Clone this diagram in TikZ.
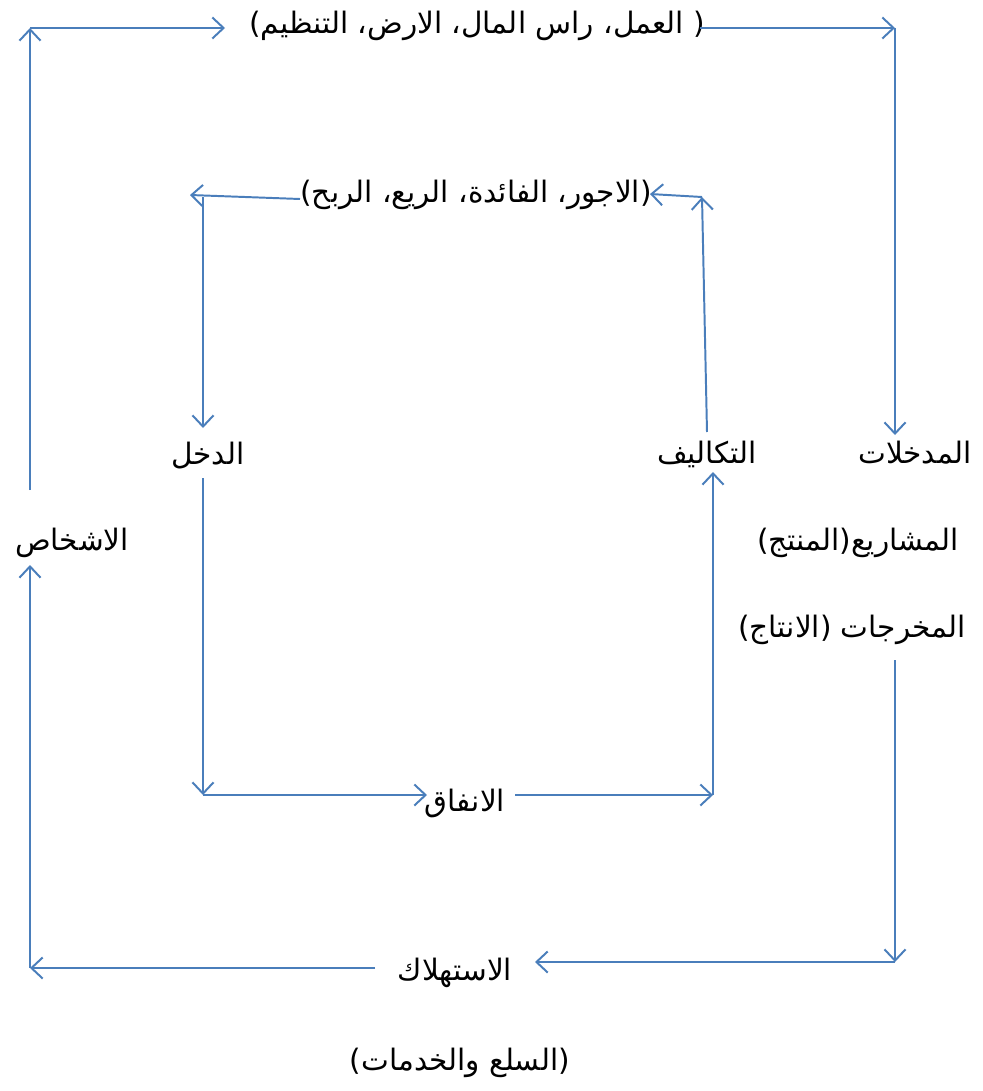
\documentclass[tikz,border=0pt]{standalone}
\usepackage{fontspec}
\usetikzlibrary{arrows.meta}
\newfontfamily\arabicfont[Script=Arabic]{DejaVu Sans}
\TeXXeTstate=1
\definecolor{flowblue}{HTML}{4A7EBB}
\newcommand{\artext}[1]{{\arabicfont\beginR #1\endR}}

\begin{document}
\begin{tikzpicture}[x=0.025cm,y=-0.025cm,
  flow/.style={draw=flowblue,line width=1.4pt,-{Straight Barb[length=8pt,width=15pt]}},
  lbl/.style={font=\arabicfont\fontsize{21}{25}\selectfont,inner sep=0pt}]
\useasboundingbox (0,0) rectangle (982,1091);
% outer loop (brackets are mirrored by the Arabic font)
\node[lbl] (factors) at (477,26){)\artext{العمل، راس المال، الارض، التنظيم}\ (};
\node[lbl] (inputs) at (915,453){\artext{المدخلات}};
\node[lbl] (projects) at (858,543){)\artext{المنتج}(\artext{المشاريع}};
\node[lbl] (outputs) at (852,630){)\artext{الانتاج}( \artext{المخرجات}};
\node[lbl] (consume) at (455,973){\artext{الاستهلاك}};
\node[lbl] (goods) at (460,1063){)\artext{السلع والخدمات}(};
\node[lbl] (persons) at (72,543){\artext{الاشخاص}};
\coordinate (tl) at (30,28);\coordinate (tr) at (895,28);
\coordinate (br) at (895,962);\coordinate (bl) at (30,968);
\coordinate (t1) at (225,28);\coordinate (t2) at (700,28);
\coordinate (r1) at (895,435);\coordinate (r2) at (895,660);
\coordinate (b1) at (535,962);\coordinate (b2) at (375,968);
\coordinate (l1) at (30,565);\coordinate (l2) at (30,490);
\draw[flow](l2)--(tl);\draw[flow](tl)--(t1);
\draw[flow](t2)--(tr);\draw[flow](tr)--(r1);
\draw[flow](r2)--(br);\draw[flow](br)--(b1);
\draw[flow](b2)--(bl);\draw[flow](bl)--(l1);
% inner loop
\node[lbl] (returns) at (476,195){)\artext{الاجور، الفائدة، الريع، الربح}(};
\node[lbl] (income) at (208,456){\artext{الدخل}};
\node[lbl] (spending) at (465,803){\artext{الانفاق}};
\node[lbl] (costs) at (707,454){\artext{التكاليف}};
\coordinate (itl) at (203,197);\coordinate (itr) at (702,197);
\coordinate (ibl) at (203,795);\coordinate (ibr) at (713,795);
\coordinate (u1) at (300,199);\coordinate (u0) at (190,195);
\coordinate (u2) at (650,194);\coordinate (c1) at (707,432);
\coordinate (d1) at (203,428);\coordinate (d2) at (203,478);
\coordinate (s1) at (427,795);\coordinate (s2) at (515,795);
\coordinate (c2) at (713,472);
\draw[flow](u1)--(u0);\draw[flow](itl)--(d1);
\draw[flow](d2)--(ibl);\draw[flow](ibl)--(s1);
\draw[flow](s2)--(ibr);\draw[flow](ibr)--(c2);
\draw[flow](c1)--(itr);\draw[flow](itr)--(u2);
\end{tikzpicture}
\end{document}
